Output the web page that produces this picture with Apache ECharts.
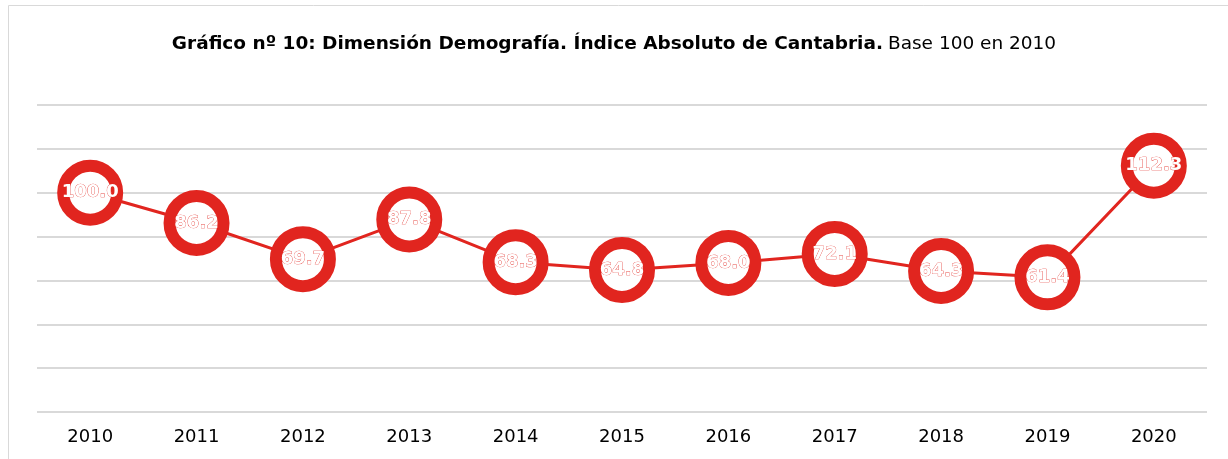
<!DOCTYPE html>
<html>
<head>
<meta charset="utf-8">
<script src="https://cdn.jsdelivr.net/npm/echarts@6/dist/echarts.min.js"></script>
<style>
  html, body { margin: 0; padding: 0; background: #fff; }
  #main { width: 1228px; height: 459px; }
</style>
</head>
<body>
<div id="main"></div>
<script>
// Índice absoluto de Cantabria, base 100 en 2010
const years = ['2010', '2011', '2012', '2013', '2014', '2015', '2016', '2017', '2018', '2019', '2020'];
const indexValues = [100.0, 86.2, 69.7, 87.8, 68.3, 64.8, 68.0, 72.1, 64.3, 61.4, 112.3];

const red = '#e1251f';
const font = '"DejaVu Sans", Verdana, sans-serif';

const chart = echarts.init(document.getElementById('main'), null, { renderer: 'canvas' });

chart.setOption({
  animation: false,
  graphic: [
    {
      type: 'rect',
      shape: { x: 8.5, y: 5.5, width: 1400, height: 600 },
      style: { fill: 'none', stroke: '#d9d9d9', lineWidth: 1 },
      silent: true
    }
  ],
  title: {
    text: '{b|Gráfico nº 10: Dimensión Demografía. Índice Absoluto de Cantabria.} {n|Base 100 en 2010}',
    left: 'center',
    top: 30,
    textStyle: {
      rich: {
        b: { fontFamily: font, fontWeight: 'bold', fontSize: 18.5, color: '#000' },
        n: { fontFamily: font, fontWeight: 'normal', fontSize: 18.5, color: '#000' }
      }
    }
  },
  grid: { left: 37, right: 21, top: 105, bottom: 47 },
  xAxis: {
    type: 'category',
    data: years,
    boundaryGap: true,
    axisLine: { show: false },
    axisTick: { show: false },
    axisLabel: { color: '#000', fontFamily: font, fontSize: 18, margin: 16 }
  },
  yAxis: {
    type: 'value',
    min: 0,
    max: 140,
    interval: 20,
    axisLabel: { show: false },
    axisLine: { show: false },
    axisTick: { show: false },
    splitLine: { lineStyle: { color: '#d9d9d9', width: 2 } }
  },
  series: [
    {
      type: 'line',
      data: indexValues,
      symbol: 'circle',
      symbolSize: 54,
      lineStyle: { color: red, width: 3 },
      itemStyle: { color: '#fff', borderColor: red, borderWidth: 12 },
      label: {
        show: true,
        position: 'inside',
        color: '#fff',
        fontFamily: font,
        fontWeight: 'bold',
        fontSize: 18,
        textBorderColor: red,
        textBorderWidth: 0.6,
        formatter: (p) => p.value.toFixed(1)
      },
      z: 3
    }
  ]
});
</script>
</body>
</html>
